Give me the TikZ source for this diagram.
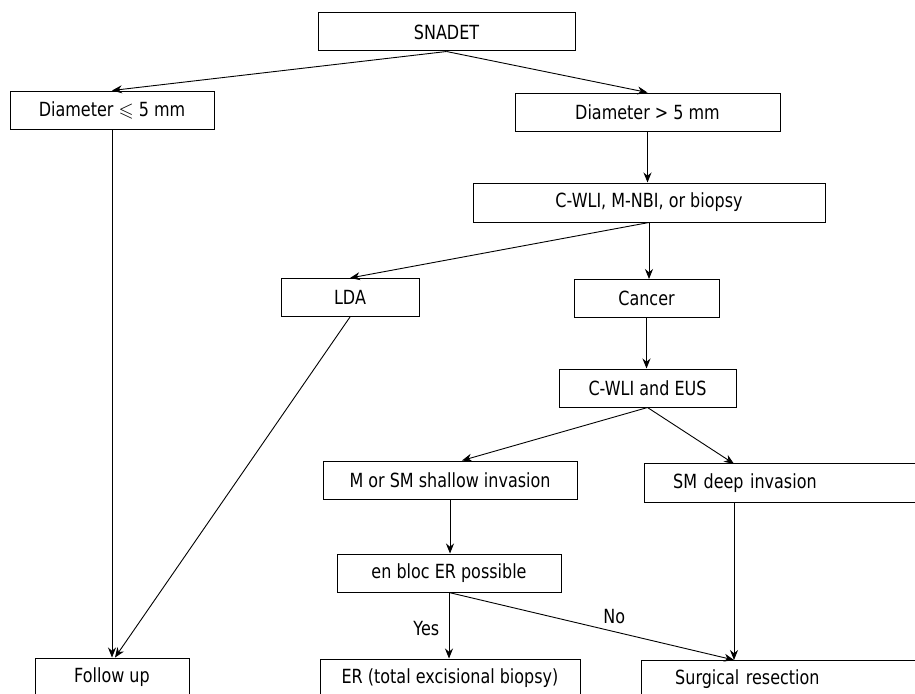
\documentclass[tikz,border=0pt]{standalone}
\usepackage{amsmath, amssymb}
\usepackage{fontspec}
\setmainfont{DejaVu Sans}[FakeStretch=0.82]
\usepackage{tikz}
\usetikzlibrary{arrows.meta}
\usetikzlibrary{positioning, calc}

\tikzset{
    box/.style={draw, line width=1pt, rectangle, minimum height=38pt, inner sep=0pt},
    openbox/.style={rectangle, minimum height=38pt, inner sep=0pt, align=left, text width=320pt},
    flow/.style={-{Stealth[length=10pt,width=8pt]}, line width=0.9pt}
}

\begin{document}
\begin{tikzpicture}[x=1pt, y=-1pt, font=\fontsize{19.5}{22}\selectfont]
\useasboundingbox[fill=white] (0,0) rectangle (915,693);

% boxes
\node[box, minimum width=257pt] (snadet) at (446.5,32) {SNADET};
\node[box, minimum width=204pt] (dsmall) at (112,110) {Diameter $\leqslant$ 5 mm};
\node[box, minimum width=265pt] (dlarge) at (647.5,112) {Diameter > 5 mm};
\node[box, minimum width=352pt, minimum height=39pt] (cwli) at (649,202.5) {C-WLI, M-NBI, or biopsy};
\node[box, minimum width=138pt] (lda) at (350,297.5) {LDA};
\node[box, minimum width=145pt] (cancer) at (646.5,298.5) {Cancer};
\node[box, minimum width=177pt] (eus) at (647.5,388) {C-WLI and EUS};
\node[box, minimum width=254pt] (shallow) at (450,480) {M or SM shallow invasion};
\node[openbox, inner xsep=29pt, anchor=west] (deep) at (644,483) {SM deep invasion};
\node[box, minimum width=224pt] (enbloc) at (449,573) {en bloc ER possible};
\node[box, minimum width=154pt] (follow) at (112,677) {Follow up};
\node[box, minimum width=260pt] (er) at (450,678) {ER (total excisional biopsy)};
\node[openbox, inner xsep=34pt, anchor=north west] (surgical) at (641,660) {Surgical resection};

% right side of these two runs off the page
\foreach \b in {deep, surgical}
    \draw[line width=1pt] (\b.north east) -- (\b.north west) -- (\b.south west) -- (\b.south east);

\coordinate (dx) at ($(deep.west)+(90,0)$);

% connectors
\draw[flow] (snadet.south) -- (dsmall.north);
\draw[flow] (snadet.south) -- (dlarge.north);
\draw[flow] (dlarge.south) -- (dlarge.south |- cwli.north);
\draw[flow] (cwli.south) -- (lda.north);
\draw[flow] (cwli.south) -- (cwli.south |- cancer.north);
\draw[flow] (cancer.south) -- (cancer.south |- eus.north);
\draw[flow] (eus.south) -- ([xshift=12pt]shallow.north);
\draw[flow] (eus.south) -- (dx |- deep.north);
\draw[flow] (shallow.south) -- (shallow.south |- enbloc.north);
\draw[flow] (enbloc.south) -- node[pos=0.55, left=6pt] {Yes} (enbloc.south |- er.north);
\draw[flow] (enbloc.south) -- node[pos=0.58, above=4pt] {No} (dx |- surgical.north);
\draw[flow] (dx |- deep.south) -- (dx |- surgical.north);
\draw[flow] (dsmall.south) -- (dsmall.south |- follow.north);
\draw[flow] (lda.south) -- ([xshift=3pt]follow.north);

\end{tikzpicture}
\end{document}
